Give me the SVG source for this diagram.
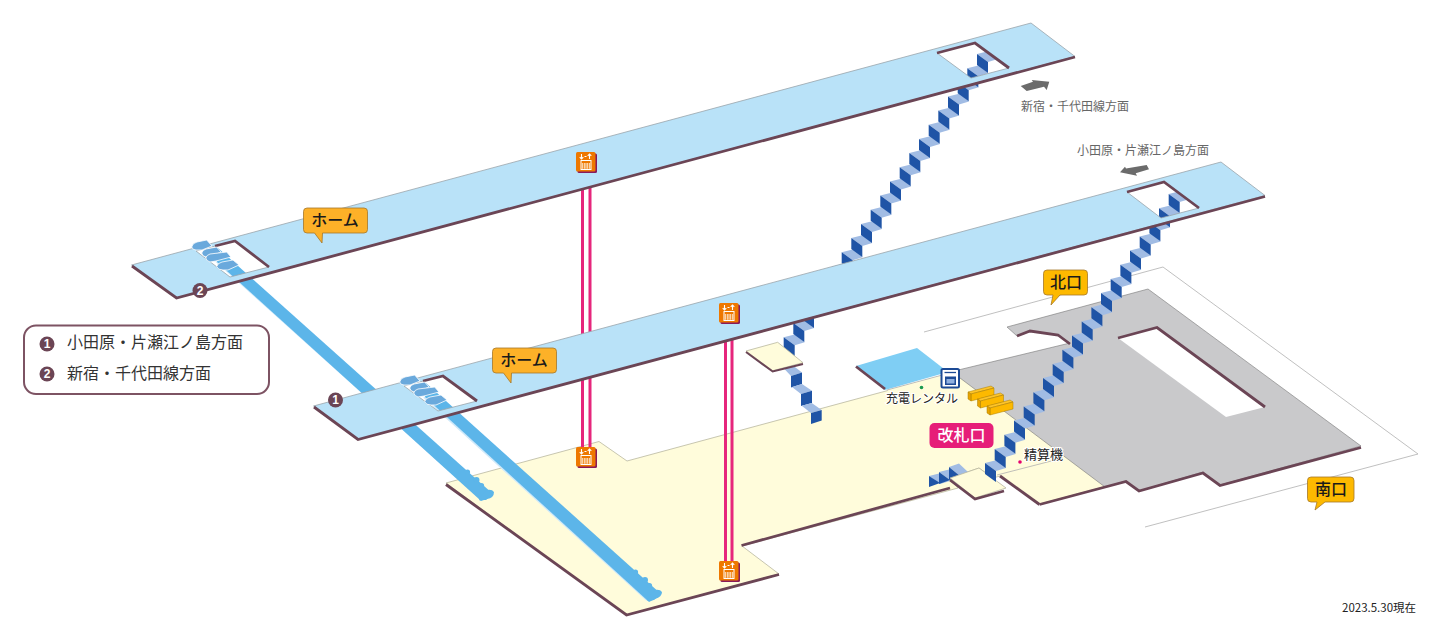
<svg xmlns="http://www.w3.org/2000/svg" width="1440" height="640" viewBox="0 0 1440 640">
<style>
text{font-family:"Noto Sans CJK JP","Noto Sans",sans-serif}
.edge{fill:none;stroke:#6b4555;stroke-width:2.8;stroke-linejoin:miter}
.thin{fill:none;stroke:#b0b0b0;stroke-width:.8}
.plat{fill:#b9e2f8;stroke:#9aa5ab;stroke-width:.8;fill-rule:evenodd}
.floor{fill:#fffcdb;stroke:#b9b8a0;stroke-width:.8}
.dark{fill:#1f54a6}
.tread{fill:#a1bce4}
.shaft{stroke:#e6267c;stroke-width:3;fill:none}
.esc{fill:#5cb5e9}
.blob{fill:#6aa9dc;stroke:#fff;stroke-width:.8}
.call{stroke-width:.8;stroke:#a5772a;stroke-linejoin:round}
.ct{font-size:16px;font-weight:500;fill:#1a1a1a;text-anchor:middle}
.lg{font-size:16px;fill:#333}
.dir{font-size:12px;fill:#666}
.lb{font-size:13px;fill:#222;paint-order:stroke;stroke:#fff;stroke-width:2}
.num{fill:#6b4555}
.nt{font-size:12px;font-weight:700;fill:#fff;text-anchor:middle;font-family:"Liberation Sans",sans-serif}
.arrow{fill:#6b6b6b}
</style>
<defs>
<g id="step"><polygon class="tread" points="0,0 12,-3 21,5 11,8"/><polygon class="dark" points="0,0 11,8 11,19 0,11"/></g>
<g id="elev"><rect x="1.500" y="1.500" width="19.500" height="19.500" rx="1.500" fill="#8a1a5a"/><rect width="19.500" height="19.500" rx="1.500" fill="#ee7800"/>
<path d="M5.500 2V7M3.700 5.200L5.500 7L7.300 5.200M13.500 7V2M11.700 3.800L13.500 2L15.300 3.800M8.500 4.500H10.500" fill="none" stroke="#fff" stroke-width="1.100"/>
<rect x="5" y="8.500" width="10" height="9" fill="#ee7800" stroke="#fff" stroke-width="1"/><rect x="5.800" y="11" width="8.400" height="5.800" fill="#fbd3a8"/><path d="M7.500 11V17M10 11V17M12.500 11V17" stroke="#ee7800" stroke-width=".7"/></g>
<g id="comb"><path class="blob" d="M191.700 247Q192.500 243 197 242L206.700 240L212 246L202 250L196 250Q192.500 250 191.700 247Z"/><path class="blob" d="M201.700 253Q202.500 250 206 249L216.700 247L221 252L212 256L206 257Q202.500 256.500 201.700 253Z"/><path class="blob" d="M205.700 258Q206.500 255 210 254L226.700 252L231 257L216 261L210 262Q206.500 261 205.700 258Z"/><path class="blob" d="M216.700 266.700Q217.500 263 222 262L233 260L239 265L228 270L223 270Q218 270 216.700 266.700Z"/></g>
<g id="locker"><polygon points="0,0 23,-6 26,-4 3,2" fill="#fdc42a" stroke="#a87c00" stroke-width=".5"/><polygon points="3,2 26,-4 26,3 3,9" fill="#fdb900" stroke="#a87c00" stroke-width=".5"/><polygon points="0,0 3,2 3,9 0,7" fill="#e8a400" stroke="#a87c00" stroke-width=".5"/></g>
</defs>

<g id="outer-lines"><polyline class="thin" points="924,332 1163,267 1418,454 1145,527"/></g>

<g id="floor-concourse">
<polygon class="floor" points="446,483 599,441.500 627,461 960,371 1105,486 1126,481 1040,504 1000,476 993,478 979,468 950,478 958,488 742,546 779,574 626,615"/>
<polyline class="edge" points="446,484.500 626.500,615 779,574.500"/>
<polyline class="edge" points="741.500,545.500 950,488"/>
<polyline class="edge" points="1000,476 1039.500,504.500"/>
<polyline class="thin" points="997,475 1063,458"/>
</g>

<g id="floor-grey">
<polygon points="1007,327 1148,289 1361,446 1220,485 1203,472 1139,491 1126,481 1105,487 960,378 950,372 1070,343 1058,335 1030,331 1017,336" fill="#c9c9cb" stroke="#777" stroke-width=".6"/>
<polyline class="edge" points="1017,336 1030,331 1058,335 1070,344"/>
<polyline class="edge" points="1039.500,504.500 1126,481.500 1139,491 1203,473 1220,485.500 1361,447.500"/>
<polygon points="1118,338 1157,327 1265,407 1226,417" fill="#fff"/>
<polyline class="edge" points="1118,338 1157,327.500 1265,407"/>
</g>

<g id="rental-area">
<polygon points="856,366 917,348 948,372 885,390" fill="#7fcef4"/>
<polyline class="edge" points="856,366.500 885,389"/>
<polygon class="floor" points="887,390 946,374 960,380 900,400" style="stroke:none"/>
<polyline class="thin" points="887,390 946,374"/>
</g>

<g id="stair-left">
<polygon class="tread" points="929,476 939,473.500 950,481 940,484"/><polygon class="dark" points="929,476 940,483 929,487"/>
<polygon class="tread" points="939,472 949,469.500 960,477 950,480"/><polygon class="dark" points="939,472 950,480 939,484"/>
<polygon class="tread" points="949,467 959,463.500 968,472 960,476"/><polygon class="dark" points="949,467 960,476 949,480"/>
</g>

<g id="platform-small">
<polygon class="floor" points="950,478 979,468 1006,488 975,498"/>
<polyline class="edge" points="950,480 975,499 1004,491"/>
</g>

<g id="connectors">
<g id="stairs-platform1">
<use href="#step" x="985" y="463"/><use href="#step" x="994.700" y="448.900"/><use href="#step" x="1004.400" y="434.700"/><use href="#step" x="1014" y="420.600"/><use href="#step" x="1023.700" y="406.400"/><use href="#step" x="1033.400" y="392.200"/><use href="#step" x="1043" y="378.100"/><use href="#step" x="1052.700" y="363.900"/><use href="#step" x="1062.400" y="349.800"/><use href="#step" x="1072" y="335.600"/><use href="#step" x="1081.700" y="321.400"/><use href="#step" x="1091.400" y="307.300"/><use href="#step" x="1101" y="293.100"/><use href="#step" x="1110.700" y="279"/><use href="#step" x="1120.400" y="264.800"/><use href="#step" x="1130" y="250.600"/><use href="#step" x="1139.700" y="236.500"/><use href="#step" x="1149.400" y="222.300"/><use href="#step" x="1159" y="208.200"/><use href="#step" x="1168.700" y="194"/>
</g>
<g id="stairs-platform2">
<use href="#step" x="783.700" y="337.200"/><use href="#step" x="793.300" y="323"/><use href="#step" x="803" y="308.900"/><use href="#step" x="812.700" y="294.700"/><use href="#step" x="822.300" y="280.600"/><use href="#step" x="832" y="266.400"/><use href="#step" x="841.700" y="252.200"/><use href="#step" x="851.300" y="238.100"/><use href="#step" x="861" y="223.900"/><use href="#step" x="870.700" y="209.800"/><use href="#step" x="880.300" y="195.600"/><use href="#step" x="890" y="181.400"/><use href="#step" x="899.700" y="167.300"/><use href="#step" x="909.300" y="153.100"/><use href="#step" x="919" y="139"/><use href="#step" x="928.700" y="124.800"/><use href="#step" x="938.300" y="110.600"/><use href="#step" x="948" y="96.500"/><use href="#step" x="957.700" y="82.300"/><use href="#step" x="967.300" y="68.200"/><use href="#step" x="977" y="54"/>
</g>
<g id="stairs-mezzanine">
<polygon class="tread" points="783,367.500 793,365.500 802,372.500 791,376"/><polygon class="dark" points="791,376 802,372.500 802,384 791,387.500"/>
<polygon class="tread" points="792,387 802,384 812,390.700 801,394"/><polygon class="dark" points="801,394 812,390.700 812,403 801,406"/>
<polygon class="tread" points="801.700,405.700 811.700,403 821.700,410 811,413"/><polygon class="dark" points="811,413 821.700,410 821.700,420.500 811,424"/>
</g>
<g id="elevator-shafts">
<path class="shaft" d="M582.500 170V452M590 170V452"/>
<path class="shaft" d="M725.500 320V565M732 320V565"/>
</g>
<g id="escalator-a">
<path d="M216 261L479 497" stroke="#cfe9fa" stroke-width="2" fill="none"/>
<polygon class="esc" points="217,262 218,248 493,494 486,500 480,500"/>
<path class="esc" d="M479 500L481 496L487 490Q492 489 494 492Q494 498 487 499L481 501Z"/>
<circle class="esc" cx="467.500" cy="472" r="2.600"/><circle class="esc" cx="476.500" cy="480" r="3"/><circle class="esc" cx="481.500" cy="485.500" r="2.600"/>
</g>
<g id="escalator-b">
<path d="M424 397L647 600" stroke="#cfe9fa" stroke-width="2" fill="none"/>
<polygon class="esc" points="425,397 426,383 661,594 654,600 648,601"/>
<path class="esc" d="M647 600L650 596L655 590Q660 589 662 592Q662 597 655 599L649 602Z"/>
<circle class="esc" cx="635.500" cy="572" r="2.600"/><circle class="esc" cx="645" cy="580" r="3"/><circle class="esc" cx="649.500" cy="585.500" r="2.600"/>
</g>
</g>

<g id="mezzanine">
<polygon class="floor" points="746,351 777.700,342.300 803,362.700 772.700,370.700"/>
<polyline class="edge" style="stroke-width:2" points="746,352 772.700,371.500 803,364"/>
</g>

<g id="platform-upper">
<path class="plat" d="M131.500 265L1031 23L1075 56.500L176.500 298ZM196 251L235 241L269 267L230 277ZM937 53L975 43L1009 68L971 78Z"/>
<polyline class="edge" points="132,266 176.500,298 1075,57"/>
<polyline class="edge" points="215,246 235,241 269,267"/>
<polyline class="edge" points="937,53 975,43 1009,68"/>
<use href="#comb"/>
</g>

<g id="platform-lower">
<path class="plat" d="M313.500 406L1221 162L1265 195.500L358 439.500ZM404 386L443 376L477 401L438 411ZM1127 192L1164 182L1199 208L1161 218Z"/>
<polyline class="edge" points="314,407 358,439.500 1265,196.500"/>
<polyline class="edge" points="423,381 443,376 477,401"/>
<polyline class="edge" points="1127,192 1164,182 1199,208"/>
<use href="#comb" x="208" y="135"/>
</g>

<g id="elevator-1"><use href="#elev" x="576" y="152"/></g>
<g id="elevator-2"><use href="#elev" x="719" y="303"/></g>
<g id="elevator-3"><use href="#elev" x="576" y="447"/></g>
<g id="elevator-4"><use href="#elev" x="719" y="561"/></g>

<g id="lockers"><use href="#locker" x="968" y="392"/><use href="#locker" x="977.500" y="399"/><use href="#locker" x="987" y="406"/></g>

<g id="charge-rental">
<circle cx="921.500" cy="387.500" r="1.800" fill="#1a9a50"/>
<rect x="941.500" y="369" width="17.500" height="18.500" rx="1.500" fill="#fff" stroke="#1c4a95" stroke-width="2"/>
<rect x="945" y="376.500" width="11" height="8.500" fill="#1c4a95"/><rect x="946.500" y="379" width="8" height="4.500" fill="#8fb0e0"/><path d="M944.500 372.500H956" stroke="#1c4a95" stroke-width="1.300"/>
<text class="lb" x="886" y="402.500" style="font-size:12px">充電レンタル</text>
</g>
<g id="fare-adjust">
<circle cx="1020" cy="462" r="1.800" fill="#e6006e"/>
<text class="lb" x="1024" y="459">精算機</text>
</g>

<g id="callout-home-upper">
<path class="call" fill="#fdb128" d="M307 208H364Q367.500 208 367.500 211.500V229.500Q367.500 233 364 233H322.500L322 243L314.500 233H307Q303.500 233 303.500 229.500V211.500Q303.500 208 307 208Z"/>
<text class="ct" x="335" y="226">ホーム</text>
</g>
<g id="callout-home-lower">
<path class="call" fill="#fdb128" d="M496 348H553Q556.500 348 556.500 351.500V369.500Q556.500 373 553 373H511.500L511 383L503.500 373H496Q492.500 373 492.500 369.500V351.500Q492.500 348 496 348Z"/>
<text class="ct" x="524" y="366">ホーム</text>
</g>
<g id="callout-north">
<path class="call" fill="#fdb900" d="M1047 270H1084Q1087.500 270 1087.500 273.500V291.500Q1087.500 295 1084 295H1060L1051 305L1053 295H1047Q1043.500 295 1043.500 291.500V273.500Q1043.500 270 1047 270Z"/>
<text class="ct" x="1066" y="288">北口</text>
</g>
<g id="callout-south">
<path class="call" fill="#fdb900" d="M1311 477H1350.500Q1354 477 1354 480.500V498.500Q1354 502 1350.500 502H1325L1315 510L1317 502H1311Q1307.500 502 1307.500 498.500V480.500Q1307.500 477 1311 477Z"/>
<text class="ct" x="1331" y="495">南口</text>
</g>
<g id="gate">
<rect x="929.500" y="423" width="64" height="25" rx="5" fill="#e61e78"/>
<text class="ct" x="961.500" y="441" style="fill:#fff">改札口</text>
</g>

<g id="marker-1"><circle class="num" cx="335.500" cy="400" r="7.500"/><text class="nt" x="335.500" y="404.300">1</text></g>
<g id="marker-2"><circle class="num" cx="200" cy="290.500" r="7.500"/><text class="nt" x="200" y="294.800">2</text></g>

<g id="legend">
<rect x="24" y="325.500" width="245" height="68.500" rx="12" fill="#fff" stroke="#7d5363" stroke-width="2"/>
<circle class="num" cx="47" cy="344" r="7.500"/><text class="nt" x="47" y="348.300">1</text>
<text class="lg" x="67" y="348">小田原・片瀬江ノ島方面</text>
<circle class="num" cx="47" cy="374" r="7.500"/><text class="nt" x="47" y="378.300">2</text>
<text class="lg" x="67" y="379">新宿・千代田線方面</text>
</g>

<g id="direction-shinjuku">
<polygon class="arrow" points="1020.700,86 1033,81.700 1031.700,80 1049.300,81.700 1046.700,90 1044,86.700 1026.700,91"/>
<text class="dir" x="1021" y="111">新宿・千代田線方面</text>
</g>
<g id="direction-odawara">
<polygon class="arrow" points="1120,172.300 1125,166.700 1126,168.500 1146.700,165 1149,169.300 1135.700,173.300 1137,175.700"/>
<text class="dir" x="1077" y="155">小田原・片瀬江ノ島方面</text>
</g>

<text id="date" x="1342" y="612" style="font-size:11.500px;fill:#222">2023.5.30現在</text>
</svg>
